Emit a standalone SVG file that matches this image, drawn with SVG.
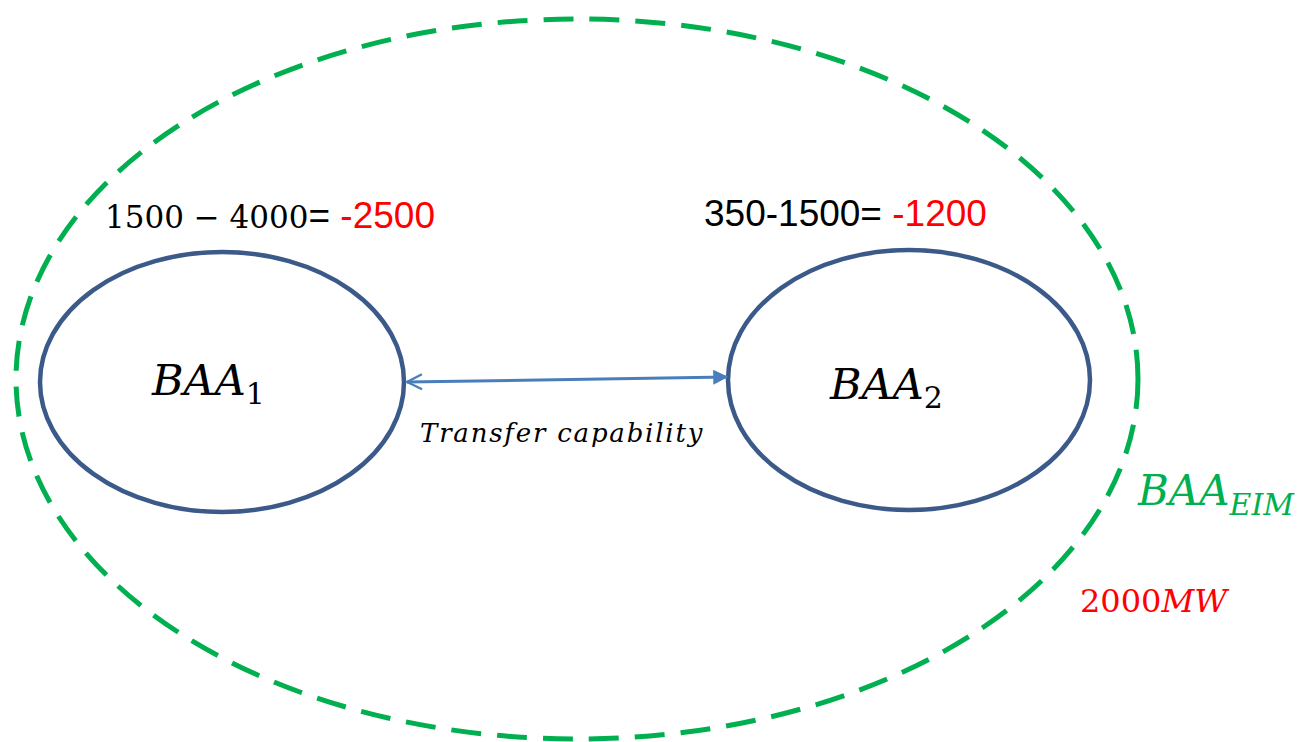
<svg xmlns="http://www.w3.org/2000/svg" width="1299" height="742" viewBox="0 0 1299 742">
  <style>
    .math { font-family: "DejaVu Serif", "Liberation Serif", serif; font-style: italic; }
    .num { font-family: "DejaVu Serif", "Liberation Serif", serif; }
    .sans { font-family: "Liberation Sans", Arial, sans-serif; }
    .baa { fill: none; stroke: #3B5A8A; stroke-width: 4.5; }
  </style>
  <defs>
    <marker id="openHead" viewBox="0 0 12 12" refX="1" refY="6" markerWidth="6" markerHeight="6" orient="auto" markerUnits="strokeWidth">
      <path d="M11,1 L1,6 L11,11" fill="none" stroke="#4A7EBB" stroke-width="1.6"/>
    </marker>
    <marker id="solidHead" viewBox="0 0 12 12" refX="11" refY="6" markerWidth="5" markerHeight="5" orient="auto" markerUnits="strokeWidth">
      <path d="M0,0 L12,6 L0,12 z" fill="#4A7EBB"/>
    </marker>
  </defs>

  <rect width="1299" height="742" fill="#ffffff"/>

  <!-- EIM boundary -->
  <g id="eim">
    <ellipse cx="577" cy="379" rx="561" ry="360" fill="none" stroke="#00B050" stroke-width="5" stroke-dasharray="30 16"/>
    <text x="1138" y="505" class="math" font-size="42" fill="#00B050">BAA<tspan font-size="30" dy="10">EIM</tspan></text>
    <text x="1080" y="612" fill="#FF0000" font-size="32"><tspan class="num">2000</tspan><tspan class="math">MW</tspan></text>
  </g>

  <!-- BAA 1 -->
  <g id="baa1">
    <ellipse class="baa" cx="222" cy="382" rx="182" ry="130"/>
    <text x="152" y="395" class="math" font-size="43" fill="#000">BAA<tspan class="num" font-style="normal" font-size="30" dy="9">1</tspan></text>
    <text x="105" y="228" fill="#000"><tspan class="num" font-size="31">1500 − 4000</tspan><tspan class="sans" font-size="37">= </tspan><tspan class="sans" font-size="37" fill="#FF0000">-2500</tspan></text>
  </g>

  <!-- BAA 2 -->
  <g id="baa2">
    <ellipse class="baa" cx="909" cy="380" rx="181" ry="130"/>
    <text x="830" y="399" class="math" font-size="43" fill="#000">BAA<tspan class="num" font-style="normal" font-size="30" dy="9">2</tspan></text>
    <text x="704" y="226" class="sans" font-size="37" fill="#000">350-1500= <tspan fill="#FF0000">-1200</tspan></text>
  </g>

  <!-- Connectors -->
  <g id="connectors">
    <line x1="407" y1="382" x2="727" y2="377" stroke="#4A7EBB" stroke-width="3" marker-start="url(#openHead)" marker-end="url(#solidHead)"/>
    <text x="420" y="442" class="math" font-size="26" letter-spacing="1.8" fill="#000">Transfer capability</text>
  </g>
</svg>
